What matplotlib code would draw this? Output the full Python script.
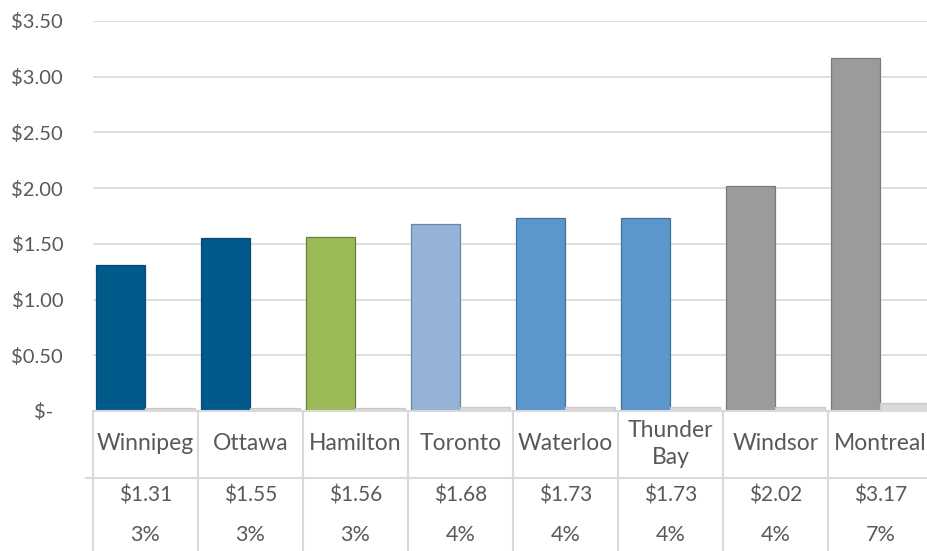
import matplotlib.pyplot as plt
import numpy as np

plt.rcParams['font.family'] = ['Lato', 'DejaVu Sans']

cities = ['Winnipeg', 'Ottawa', 'Hamilton', 'Toronto', 'Waterloo',
          'Thunder\nBay', 'Windsor', 'Montreal']
cost = [1.31, 1.55, 1.56, 1.68, 1.73, 1.73, 2.02, 3.17]
share = [0.03, 0.03, 0.03, 0.04, 0.04, 0.04, 0.04, 0.07]
share_labels = ['3%', '3%', '3%', '4%', '4%', '4%', '4%', '7%']
bar_colors = ['#005A8C', '#005A8C', '#9BBB59', '#95B3D7', '#5B96CD',
              '#5B96CD', '#9B9B9B', '#9B9B9B']
edge_colors = ['#0B4A6E', '#0B4A6E', '#6A7F3E', '#6F86A3', '#41719C',
               '#41719C', '#7A7A7A', '#7A7A7A']
yticks = [0, 0.5, 1.0, 1.5, 2.0, 2.5, 3.0, 3.5]
ytick_labels = ['$-\u2002', '$0.50', '$1.00', '$1.50', '$2.00',
                '$2.50', '$3.00', '$3.50']

W, H = 928, 551
fig = plt.figure(figsize=(W / 100, H / 100), dpi=100)
text_col = '#595959'
grid_col = '#D9D9D9'

# plot area in pixels: left 93, right 933 (cut off), top 21, bottom 411
left, right, top, bottom = 93, 933, 21, 411
ax = fig.add_axes([left / W, (H - bottom) / H, (right - left) / W, (bottom - top) / H])
x = np.arange(len(cities))
w = 0.47
ax.bar(x - w / 2, cost, w, color=bar_colors, edgecolor=edge_colors, linewidth=0.9, zorder=3)
ax.bar(x + w / 2, share, w, color='#D9D9D9', edgecolor='#C8C8C8', linewidth=0.9, zorder=3)
ax.set_xlim(-0.5, len(cities) - 0.5)
ax.set_ylim(0, 3.5)
ax.set_yticks(yticks)
ax.set_yticklabels(ytick_labels, fontsize=14.5, color=text_col)
ax.tick_params(axis='y', length=0, pad=21.5)
ax.tick_params(axis='x', length=0, labelbottom=False)
ax.grid(axis='y', color=grid_col, linewidth=1.2, zorder=0)
for s in ['left', 'right', 'top']:
    ax.spines[s].set_visible(False)
ax.spines['bottom'].set_color(grid_col)
ax.spines['bottom'].set_linewidth(1.5)
ax.spines['bottom'].set_zorder(4)

# data table below the plot
tab = fig.add_axes([left / W, 0, (right - left) / W, (H - bottom) / H], sharex=ax)
tab.set_ylim(H - bottom, 0)
tab.axis('off')
for b in np.arange(len(cities) + 1) - 0.5:
    tab.plot([b, b], [0, H - bottom], color=grid_col, linewidth=1.5, clip_on=False)
tab.plot([-0.567, len(cities) - 0.5], [67, 67], color=grid_col, linewidth=1.5, clip_on=False)
for i, c in enumerate(cities):
    tab.text(i, 33, c, ha='center', va='center', fontsize=16.5, color=text_col,
             linespacing=1.3)
    tab.text(i, 85, f'${cost[i]:.2f}', ha='center', va='center', fontsize=15, color=text_col)
    tab.text(i, 124, share_labels[i], ha='center', va='center', fontsize=15.5, color=text_col)

fig.savefig('out.png', dpi=100)
